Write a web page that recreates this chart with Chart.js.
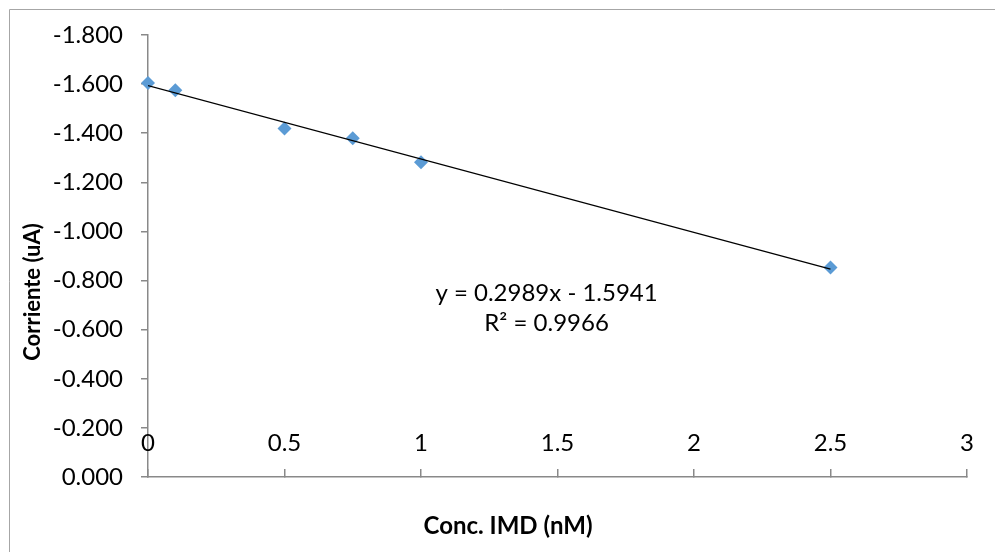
<!DOCTYPE html>
<html>
<head>
<meta charset="utf-8">
<script src="https://cdn.jsdelivr.net/npm/chart.js@4/dist/chart.umd.min.js"></script>
<style>
  html, body { margin: 0; padding: 0; background: #fff; }
  #wrap { width: 995px; height: 552px; position: relative; }
</style>
</head>
<body>
<div id="wrap"><canvas id="c" width="995" height="552"></canvas></div>
<script>
// Concentration of IMD (nM) and measured current (uA)
const concentrations = [0, 0.1, 0.5, 0.75, 1, 2.5];
const currents = [-1.605, -1.575, -1.419, -1.380, -1.282, -0.853];

// Linear trendline coefficients and fit quality
const slope = 0.2989;
const intercept = -1.5941;
const rSquared = 0.9966;
const trendRange = [0, 2.5];

// Tick values of both axes
const xTicks = [0, 0.5, 1, 1.5, 2, 2.5, 3];
const yTicks = [0, -0.2, -0.4, -0.6, -0.8, -1.0, -1.2, -1.4, -1.6, -1.8];

const xTitle = 'Conc. IMD (nM)';
const yTitle = 'Corriente (uA)';

const FONT = 'Lato, "Open Sans", sans-serif';
const AXIS_GRAY = '#898989';

const points = concentrations.map((x, i) => ({ x: x, y: currents[i] }));
const trendPoints = trendRange.map(x => ({ x: x, y: slope * x + intercept }));

const decorations = {
  id: 'decorations',
  beforeDraw(chart) {
    const ctx = chart.ctx;
    ctx.save();
    ctx.strokeStyle = '#a6a6a6';
    ctx.lineWidth = 1;
    ctx.beginPath();
    ctx.moveTo(9.5, 560);
    ctx.lineTo(9.5, 9.5);
    ctx.lineTo(1000, 9.5);
    ctx.stroke();
    ctx.restore();
  },
  afterDraw(chart) {
    const ctx = chart.ctx;
    const xs = chart.scales.x, ys = chart.scales.y;
    ctx.save();
    ctx.fillStyle = '#000';
    ctx.textAlign = 'center';
    ctx.textBaseline = 'middle';

    // category labels of the x axis sit just above the axis line
    ctx.font = '24px ' + FONT;
    xs.ticks.forEach(t => {
      ctx.fillText(String(t.value), xs.getPixelForValue(t.value), xs.top - 34);
    });

    // trendline equation
    const ex = xs.getPixelForValue(1.46);
    const ey = ys.getPixelForValue(-0.75);
    ctx.fillText('y = ' + slope.toFixed(4) + 'x - ' + Math.abs(intercept).toFixed(4), ex, ey);
    ctx.fillText('R\u00B2 = ' + rSquared.toFixed(4), ex, ey + 30);

    // axis titles
    ctx.font = 'bold 24px ' + FONT;
    ctx.fillText(xTitle, 508, 526);
    ctx.font = 'bold 22px ' + FONT;
    ctx.translate(33, 292);
    ctx.rotate(-Math.PI / 2);
    ctx.fillText(yTitle, 0, 0);
    ctx.restore();
  }
};

new Chart(document.getElementById('c'), {
  type: 'scatter',
  data: {
    datasets: [
      {
        type: 'line',
        data: trendPoints,
        borderColor: '#000',
        borderWidth: 1.2,
        pointRadius: 0,
        fill: false,
        order: 0
      },
      {
        data: points,
        pointStyle: 'rectRot',
        pointRadius: 7,
        pointHoverRadius: 7,
        backgroundColor: '#5b9bd5',
        borderColor: '#5b9bd5',
        borderWidth: 0,
        clip: false,
        order: 1
      }
    ]
  },
  options: {
    responsive: false,
    animation: false,
    events: [],
    layout: { padding: { top: 35, right: 28, left: 0, bottom: 0 } },
    plugins: { legend: { display: false }, tooltip: { enabled: false } },
    scales: {
      x: {
        type: 'linear',
        min: xTicks[0],
        max: xTicks[xTicks.length - 1],
        afterBuildTicks: s => { s.ticks = xTicks.map(v => ({ value: v })); },
        afterFit: s => { s.height = 75; },
        border: { color: AXIS_GRAY, width: 1.5 },
        grid: { drawOnChartArea: false, color: AXIS_GRAY, lineWidth: 1.5, tickLength: -8 },
        ticks: { display: false }
      },
      y: {
        type: 'linear',
        reverse: true,
        min: -1.8,
        max: 0,
        afterBuildTicks: s => { s.ticks = yTicks.map(v => ({ value: v })); },
        afterFit: s => { s.width = 148; },
        border: { color: AXIS_GRAY, width: 1.5 },
        grid: { drawOnChartArea: false, color: AXIS_GRAY, lineWidth: 1.5, tickLength: 7 },
        ticks: {
          color: '#000',
          font: { family: FONT, size: 24 },
          padding: 18,
          callback: v => v.toFixed(3)
        }
      }
    }
  },
  plugins: [decorations]
});
</script>
</body>
</html>
